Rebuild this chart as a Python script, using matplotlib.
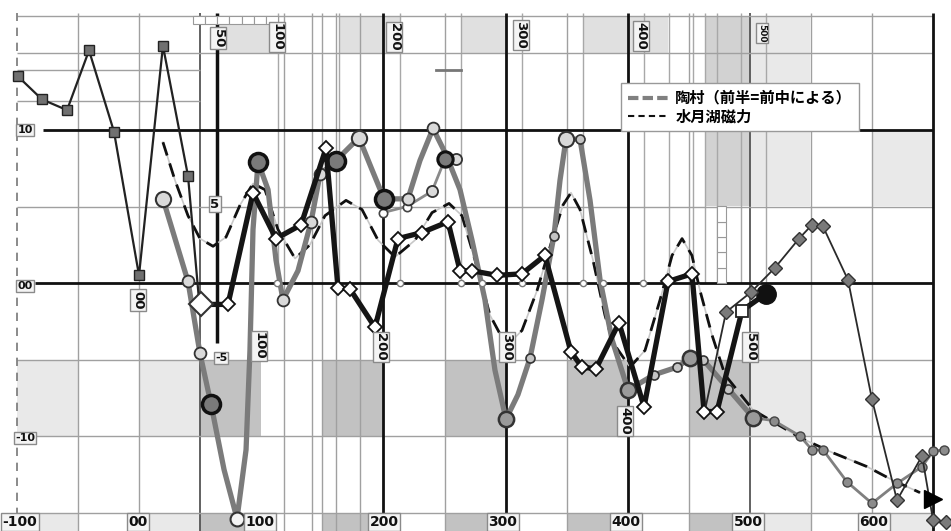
import numpy as np
import matplotlib.pyplot as plt
from matplotlib.lines import Line2D

plt.rcParams['font.family'] = ['Noto Sans CJK JP', 'DejaVu Sans']
NUM_FONT = ['Liberation Sans Narrow', 'DejaVu Sans']

# --- data (x in chart units, y in chart units) ---
# thin black line with gray squares (upper left)
sq_x = [-99.0, -79.4, -58.9, -40.9, -20.5, 0.0, 19.6, 40.1, 49.1]
sq_y = [13.5, 12.0, 11.3, 15.2, 9.9, 0.5, 15.5, 7.0, -1.1]

# thick black line with white diamonds
dia_x = [50.7, 72.8, 93.3, 112.1, 132.6, 153.0, 162.8, 172.7, 193.1, 211.9,
         231.6, 252.9, 262.7, 272.5, 293.0, 313.4, 332.2, 353.5, 362.5, 374.0,
         392.8, 413.3, 432.9, 452.5, 462.4, 473.0, 493.5, 513.1]
dia_y = [-1.4, -1.4, 5.9, 2.9, 3.8, 8.8, -0.3, -0.4, -2.9, 2.9,
         3.3, 4.0, 0.8, 0.8, 0.5, 0.6, 1.8, -4.5, -5.5, -5.6,
         -2.6, -8.1, 0.1, 0.6, -8.4, -8.4, -1.8, -0.7]

# 陶村 thick gray line
tao_x = [19.6, 40.1, 49.9, 58.9, 69.6, 80.2, 87.6, 90.8, 93.3, 97.4,
         105.6, 112.1, 117.8, 130.1, 140.8, 148.1, 161.2, 180.0, 190.7, 200.5,
         220.1, 229.9, 240.6, 251.2, 262.7, 272.5, 283.1, 291.3, 300.3, 310.1,
         320.0, 329.8, 339.6, 344.5, 349.4, 360.9, 369.1, 377.3, 387.1, 400.2,
         421.4, 440.3, 450.9, 461.5, 482.0, 502.5]
tao_y = [5.5, 0.1, -4.6, -7.9, -12.2, -15.4, -10.9, -4.4, 3.5, 7.9,
         6.1, 1.5, -1.1, 0.8, 4.0, 7.1, 8.0, 9.5, 7.4, 5.5,
         5.5, 8.0, 10.1, 8.4, 6.1, 2.8, -1.1, -5.7, -8.9, -7.3,
         -4.9, -1.1, 3.1, 6.7, 9.4, 9.4, 5.4, 0.2, -3.7, -7.0,
         -6.0, -5.5, -4.9, -5.0, -6.9, -8.8]
# 陶村 tail (thin gray)
tail_x = [502.5, 519.6, 540.9, 550.7, 559.7, 579.4, 599.8, 620.3, 640.8, 649.8, 658.7]
tail_y = [-8.8, -9.0, -10.0, -10.9, -10.9, -13.0, -14.4, -13.1, -12.0, -11.0, -10.9]
# secondary thin gray line
sec_x = [199.7, 219.3, 239.8, 250.4, 259.4]
sec_y = [4.6, 5.0, 6.0, 8.1, 8.1]
# small circles on the zero line
zero_x = [112.9, 213.6, 263.5, 280.7, 313.4, 363.3, 379.7, 412.4]

# thin line with gray diamonds (right)
gd_x = [464.0, 480.4, 500.8, 520.5, 540.1, 550.7, 559.7, 580.2, 599.8, 620.3, 640.8, 649.8, 660.4]
gd_y = [-8.0, -1.9, -0.6, 1.0, 2.9, 3.8, 3.7, 0.2, -7.6, -14.2, -11.3, -15.5, -15.6]

# 水月湖磁力 dashed curve
mag_x = [19.6, 29.5, 40.1, 49.9, 60.6, 71.2, 82.7, 93.3, 103.1, 113.7,
         127.7, 139.9, 152.2, 169.4, 182.5, 195.6, 209.5, 225.9, 239.8, 253.7,
         264.3, 275.0, 287.2, 297.9, 303.6, 313.4, 325.7, 338.0, 347.0, 353.5,
         360.9, 371.5, 381.3, 387.9, 401.8, 414.1, 426.4, 436.2, 444.4, 452.5,
         459.1, 468.9, 479.5, 502.5, 540.9, 567.9, 595.7, 617.0, 639.1]
mag_y = [9.2, 6.7, 4.4, 2.9, 2.4, 3.0, 5.1, 6.5, 6.1, 3.5,
         1.6, 2.5, 4.4, 5.4, 4.8, 2.8, 1.7, 2.8, 4.6, 5.2,
         4.4, 1.5, -2.1, -3.7, -3.9, -3.1, -0.5, 2.8, 5.1, 5.9,
         4.8, 1.5, -2.1, -3.9, -5.5, -4.4, -1.1, 1.8, 2.9, 1.8,
         -0.5, -3.4, -6.0, -8.3, -10.1, -11.1, -12.0, -12.9, -13.7]
arrow_pt = (649.8, -14.1)

legend_labels = ['陶村（前半=前中による）', '水月湖磁力']

bottom_labels = ['-100', '00', '100', '200', '300', '400', '500', '600']
top_labels = ['50', '100', '200', '300', '400', '500']
mid_labels = ['00', '100', '200', '300', '400', '500']
left_labels = ['10', '00', '-10']


def X(px):
    return (px - 139) / 1.222


def Y(py):
    return (283 - py) / 15.3


fig = plt.figure(figsize=(9.51, 5.31), dpi=100)
ax = fig.add_axes([0, 0, 1, 1])
ax.set_xlim(X(0), X(951))
ax.set_ylim(Y(531), Y(0))
ax.axis('off')

YTOP, YBOT = Y(13), Y(531)
MID, LIGHT, TOPC, DARKT = '#c2c2c2', '#e9e9e9', '#e0e0e0', '#d2d2d2'

# shaded blocks
lo_cols = [(-100, LIGHT), (0, LIGHT), (50, MID), (150, MID), (250, MID),
           (350, MID), (450, MID), (500, LIGHT)]
for x0, c in lo_cols:
    ax.bar(x0, 5, width=50, bottom=-10, align='edge', color=c, zorder=0)
    ax.bar(x0, YBOT + 15, width=50, bottom=-15, align='edge', color=c, zorder=0)
ax.bar(600, YBOT + 15, width=50, bottom=-15, align='edge', color=LIGHT, zorder=0)
for x0, x1, c in [(64, 114, TOPC), (164, 214, TOPC), (263.5, 300, TOPC),
                  (363, 433, TOPC), (463, 500, DARKT), (500, 549, LIGHT)]:
    ax.bar(x0, 2.45, width=x1 - x0, bottom=15, align='edge', color=c, zorder=0)
ax.bar(463, 10, width=37, bottom=5, align='edge', color=DARKT, zorder=0)
ax.bar(500, 10, width=49, bottom=5, align='edge', color=LIGHT, zorder=0)
ax.bar(600, 5, width=50, bottom=5, align='edge', color=LIGHT, zorder=0)

# grid
full_thin = [-50, 0, 118.5, 141.5, 150, 161, 181, 250, 350, 450, 550, 600]
upper_thin = [113.5, 163.5, 213.5, 263.5, 313.5, 363.5, 413.5, 433.5, 453.5, 463, 473, 493, 513]
ax.vlines(full_thin, YBOT, YTOP, color='#a0a0a0', lw=1, zorder=1)
ax.vlines(upper_thin, 0, YTOP, color='#a8a8a8', lw=1, zorder=1)
ax.vlines([50, 500], YBOT, YTOP, color='#555555', lw=1.3, zorder=1)
ax.vlines([200, 300, 400, 650], YBOT, YTOP, color='#111111', lw=2, zorder=2)
ax.vlines([64], Y(343), YTOP, color='#111111', lw=2.5, zorder=2)
ax.vlines([-100], YBOT, YTOP, color='#777777', lw=1.2, linestyles=(0, (5, 4)), zorder=2)
ax.hlines([17.45, 15, 5, -5, -10, -15], -100, 650, color='#a0a0a0', lw=1, zorder=1)
ax.hlines([13.9, 11.9], -100, 50, color='#a0a0a0', lw=1, zorder=1)
ax.hlines([10], X(43), 650, color='#111111', lw=2, zorder=2)
ax.hlines([0], X(35), 650, color='#111111', lw=2, zorder=2)

# small segmented bars
for i in range(7):
    ax.bar(44 + 10 * i, 0.55, width=10, bottom=16.9, align='edge',
           color='white', edgecolor='#999999', lw=0.8, zorder=2)
for i in range(5):
    ax.bar(473, 1, width=7, bottom=i, align='edge',
           color='white', edgecolor='#999999', lw=0.8, zorder=2)
ax.plot([243, 263.5], [13.9, 13.9], color='#777777', lw=2, zorder=2)

# 水月湖磁力
ax.plot(mag_x, mag_y, color='#c8c8c8', lw=1.2, zorder=3)
ax.plot(mag_x, mag_y, color='#111111', lw=2, ls=(0, (5, 3)), zorder=3)
ax.plot(*arrow_pt, marker='>', color='black', ms=13, zorder=8)

# square series
ax.plot(sq_x, sq_y, color='#222222', lw=1.6, zorder=4)
ax.plot(sq_x[:-1], sq_y[:-1], ls='none', marker='s', ms=6.5, mfc='#707070', mec='#222222', mew=1, zorder=4)

# 陶村
tx, ty = np.array(tao_x), np.array(tao_y)
ax.plot(tail_x, tail_y, color='#808080', lw=2, zorder=5)
ax.plot(tail_x[1:], tail_y[1:], ls='none', marker='o', ms=6.5, mfc='#8c8c8c', mec='#444444', mew=1, zorder=5)
ax.plot(sec_x, sec_y, color='#8a8a8a', lw=2, zorder=5)
ax.plot(tao_x, tao_y, color='#7b7b7b', lw=3.8, zorder=5, solid_joinstyle='round')
ax.plot(sec_x[:2], sec_y[:2], ls='none', marker='o', ms=6, mfc='white', mec='#444444', mew=1.2, zorder=6)
ax.plot(sec_x[2::2], sec_y[2::2], ls='none', marker='o', ms=8, mfc='#dadada', mec='#333333', mew=1.3, zorder=6)
ax.plot(zero_x, np.zeros(len(zero_x)), ls='none', marker='o', ms=4.5, mfc='white', mec='#777777', mew=1, zorder=6)

marker_sets = [
    ([0, 17, 34], 11, '#d9d9d9', '#333333', 1.5),
    ([1, 2, 12, 14, 15, 20, 22], 8.5, '#d9d9d9', '#333333', 1.3),
    ([3, 9, 16, 19], 13, '#7a7a7a', '#111111', 2.5),
    ([5], 10, '#f4f4f4', '#333333', 1.5),
    ([28, 39, 42, 45], 11, '#9a9a9a', '#333333', 1.8),
    ([30, 32, 35, 40, 41, 43, 44], 6.5, '#c4c4c4', '#333333', 1.2),
]
for idx, ms, fc, ec, mew in marker_sets:
    ax.plot(tx[idx], ty[idx], ls='none', marker='o', ms=ms, mfc=fc, mec=ec, mew=mew, zorder=6)
ax.plot(sec_x[3], sec_y[3], ls='none', marker='o', ms=11, mfc='#7a7a7a', mec='#111111', mew=2.2, zorder=6)

# thick black diamonds
ax.plot(dia_x, dia_y, color='#151515', lw=3.8, zorder=7, solid_joinstyle='round')
ax.plot(dia_x[1:26], dia_y[1:26], ls='none', marker='D', ms=7.5, mfc='white', mec='#111111', mew=1.3, zorder=7)
ax.plot(dia_x[0], dia_y[0], marker='D', ms=12, mfc='white', mec='#333333', mew=1.5, zorder=7)
ax.plot(dia_x[26], dia_y[26], marker='s', ms=8, mfc='white', mec='#222222', mew=1.3, zorder=7)
ax.plot(dia_x[27], dia_y[27], marker='o', ms=14, mfc='#111111', mec='#111111', zorder=7)

# gray diamonds
ax.plot(gd_x, gd_y, color='#2a2a2a', lw=1.3, zorder=7)
ax.plot(gd_x[1:], gd_y[1:], ls='none', marker='D', ms=7, mfc='#7a7a7a', mec='#333333', mew=1, zorder=7)

# labels
box = dict(boxstyle='square,pad=0.12', fc='#f4f4f4', ec='#8a8a8a', lw=1)
tkw = dict(family=NUM_FONT, weight='bold', color='#111111', ha='center', va='center', zorder=9, bbox=box)
for lab, px in zip(bottom_labels, [20, 138, 260, 384, 503, 626, 748, 874]):
    ax.text(X(px), Y(522), lab, fontsize=10, **tkw)
for lab, (px, py), fs in zip(top_labels, [(218, 38), (277, 37), (394, 37), (521, 35), (641, 36), (762, 33)],
                             [9.5, 9.5, 9.5, 9.5, 9.5, 6.5]):
    ax.text(X(px), Y(py), lab, fontsize=fs, rotation=-90, **tkw)
for lab, (px, py) in zip(mid_labels, [(138, 300), (259, 346), (381, 347), (507, 347), (625, 421), (750, 347)]):
    ax.text(X(px), Y(py), lab, fontsize=9.5, rotation=-90, **tkw)
for lab, py in zip(left_labels, [130, 286, 438]):
    ax.text(X(25), Y(py), lab, fontsize=8, **tkw)
ax.text(X(215), Y(204), '5', fontsize=9.5, **tkw)
ax.text(X(221), Y(358), '-5', fontsize=8, **tkw)

handles = [Line2D([], [], color='#808080', lw=3, ls=(0, (2.5, 1))),
           Line2D([], [], color='#111111', lw=1.5, ls=(0, (3, 2)))]
leg = ax.legend(handles, legend_labels, loc='upper left',
                bbox_to_anchor=(621 / 951, 1 - 83 / 531), borderaxespad=0,
                borderpad=0.45, handlelength=2.6, handletextpad=0.5,
                labelspacing=0.15, fancybox=False, framealpha=1,
                prop={'family': ['Noto Sans CJK JP', 'DejaVu Sans'], 'size': 11, 'weight': 'bold'})
leg.get_frame().set_edgecolor('#999999')
leg.set_zorder(10)

fig.savefig('out.png', dpi=100)
